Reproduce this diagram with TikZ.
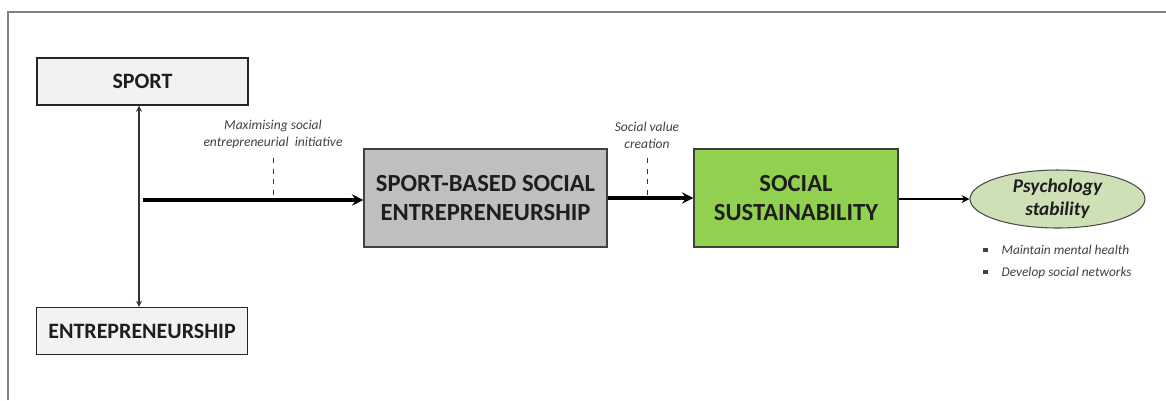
\documentclass[tikz,border=0pt]{standalone}
\usepackage{fontspec}
\setmainfont{Carlito}
\usepackage{tikz}
\usetikzlibrary{arrows,shapes,positioning,calc}
\usepackage{xcolor}
\definecolor{sbgray}{RGB}{191,191,191}
\definecolor{sblight}{RGB}{242,242,242}
\definecolor{sbgreen}{RGB}{146,208,80}
\definecolor{sbpale}{RGB}{205,224,182}
\definecolor{sbframe}{RGB}{127,127,127}
\definecolor{sbtext}{RGB}{30,30,30}
\tikzstyle{thinarrow} = [line width=0.6pt,<->,>=stealth,color=black!80]
\tikzstyle{mainarrow} = [line width=1.8pt,->,>=stealth,color=black]
\tikzstyle{outarrow} = [line width=1pt,->,>=stealth,color=black]
\tikzstyle{tick} = [dashed, line width=0.5pt, color=black!80]
\tikzstyle{smallbox} = [rectangle, minimum width=4.22cm, minimum height=0.94cm, text centered, draw=black!85, fill=sblight, line width=0.6pt, font=\fontsize{12.5}{15}\selectfont\bfseries, text=sbtext]
\tikzstyle{bigbox} = [rectangle, minimum height=1.96cm, align=center, draw=black!75, line width=0.8pt, font=\fontsize{14}{17}\selectfont\bfseries, text=sbtext]
\tikzstyle{note} = [font=\fontsize{7.7}{9.7}\selectfont\itshape, align=center, text=black!75, inner sep=1pt]
\tikzstyle{bullet} = [font=\fontsize{7.6}{9}\selectfont\itshape, text=black!75, anchor=west, inner sep=0pt]

\begin{document}
\begin{tikzpicture}[x=0.02cm, y=-0.02cm]
    \useasboundingbox (0,0) rectangle (1166,400);

    % Frame
    \draw[sbframe, line width=1pt] (8,400) -- (8,12) -- (1166,12);

    % Sport and entrepreneurship
    \node[smallbox] (sport) at (142.5,81.5) {SPORT};
    \node[smallbox] (entre) at (142,331) {ENTREPRENEURSHIP};
    \coordinate (split) at (139,200);
    \draw[thinarrow] (split |- sport.south) -- (split |- entre.north);

    % Sport-based social entrepreneurship
    \node[bigbox, fill=sbgray, minimum width=4.86cm] (sbse) at (485.5,198) {SPORT-BASED SOCIAL\\ENTREPRENEURSHIP};
    \draw[mainarrow] ([xshift=2pt]split) -- (split -| sbse.west);
    \coordinate (t1) at (273,158);
    \draw[tick] (t1) -- (t1 |- split);
    \node[note, above=4pt of t1] (n1) {Maximising social\\entrepreneurial\ \ initiative};

    % Social sustainability
    \node[bigbox, fill=sbgreen, minimum width=4.08cm] (ss) at (796,198) {SOCIAL\\SUSTAINABILITY};
    \draw[mainarrow] (sbse.east) -- (ss.west);
    \coordinate (t2) at (647,158);
    \draw[tick] (t2) -- (t2 |- sbse.east);
    \node[note, above=4pt of t2] (n2) {Social value\\creation};

    % Psychology stability
    \node[ellipse, draw=black!70, fill=sbpale, line width=0.6pt, minimum width=3.5cm, minimum height=1.16cm, inner sep=0pt, align=center, font=\fontsize{11}{13}\selectfont\bfseries\itshape, text=sbtext] (psy) at (1057.5,199) {Psychology\\stability};
    \draw[outarrow] (ss.east |- psy.west) -- (psy.west);
    \node[bullet] (b1) at (983,250) {\rule[0.35ex]{2.4pt}{2.4pt}\hspace{8pt}Maintain mental health};
    \node[bullet] (b2) at (983,273) {\rule[0.35ex]{2.4pt}{2.4pt}\hspace{8pt}Develop social networks};
\end{tikzpicture}
\end{document}
